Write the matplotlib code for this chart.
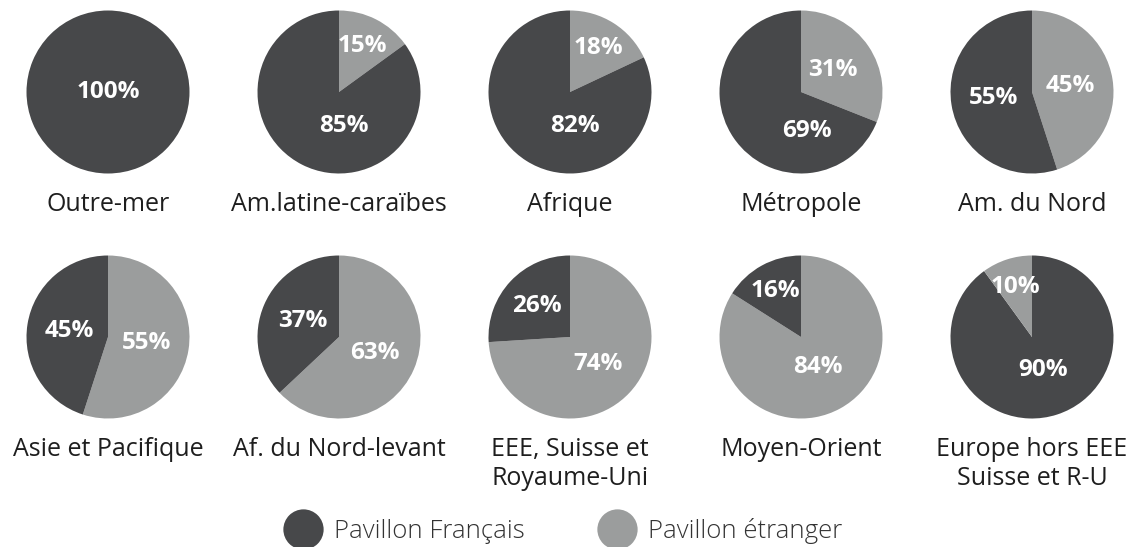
import numpy as np
import matplotlib.pyplot as plt
from matplotlib.lines import Line2D

# parts in %, pavillon francais / pavillon etranger
regions = ['Outre-mer', 'Am.latine-caraïbes', 'Afrique', 'Métropole', 'Am. du Nord',
           'Asie et Pacifique', 'Af. du Nord-levant', 'EEE, Suisse et\nRoyaume-Uni',
           'Moyen-Orient', 'Europe hors EEE\nSuisse et R-U']
pav_fr = [100, 85, 82, 69, 55, 45, 37, 26, 16, 90]
pav_etr = [0, 15, 18, 31, 45, 55, 63, 74, 84, 10]
# which serie comes first (clockwise from 12 o'clock)
first = ['etr'] * 9 + ['fr']
legend_labels = ['Pavillon Français', 'Pavillon étranger']

dark = '#47484a'
light = '#9b9d9d'
plt.rcParams['font.family'] = ['Open Sans', 'DejaVu Sans']

W, H = 1140, 547
fig = plt.figure(figsize=(W / 100, H / 100), dpi=100)

r_px = 81.5
col_x = [108, 339, 570, 801, 1032]
row_y = [92, 337]

for i, name in enumerate(regions):
    cx = col_x[i % 5]
    cy = row_y[i // 5]
    ax = fig.add_axes([(cx - r_px) / W, 1 - (cy + r_px) / H, 2 * r_px / W, 2 * r_px / H])
    if first[i] == 'etr':
        vals = [pav_etr[i], pav_fr[i]]
        cols = [light, dark]
    else:
        vals = [pav_fr[i], pav_etr[i]]
        cols = [dark, light]
    ax.pie(vals, colors=cols, startangle=90, counterclock=False, radius=1,
           wedgeprops=dict(linewidth=0))
    ax.set_xlim(-1, 1)
    ax.set_ylim(-1, 1)
    ax.set_aspect('equal')
    ax.axis('off')

    cum = 0
    for v in vals:
        if v == 0:
            continue
        clock = (cum + v / 2) * 3.6
        cum += v
        if v > 65 and clock > 180:
            clock = 172
        if v == 100:
            d = 0
        elif v < 20:
            d = 0.64
        elif v < 30:
            d = 0.55
        elif v < 80:
            d = 0.48
        else:
            d = 0.42
        a = np.radians(clock)
        ax.text(d * np.sin(a), d * np.cos(a), f'{v}%', ha='center', va='center',
                color='white', fontsize=17.5, fontweight='bold')

    ax.text(0, -1.23, name, ha='center', va='top', fontsize=18, color='#1e1e1e',
            linespacing=1.2)

handles = [Line2D([], [], marker='o', ls='', ms=29, color=dark, markeredgewidth=0),
           Line2D([], [], marker='o', ls='', ms=29, color=light, markeredgewidth=0)]
fig.legend(handles, legend_labels, loc='center', bbox_to_anchor=(562 / W, 1 - 531 / H),
           ncol=2, frameon=False, handlelength=1.6, handletextpad=0.4,
           columnspacing=2.8, labelcolor='#333333',
           prop=dict(family=['Open Sans', 'DejaVu Sans'], weight='light', size=18.5))

fig.savefig('out.png', dpi=100)
